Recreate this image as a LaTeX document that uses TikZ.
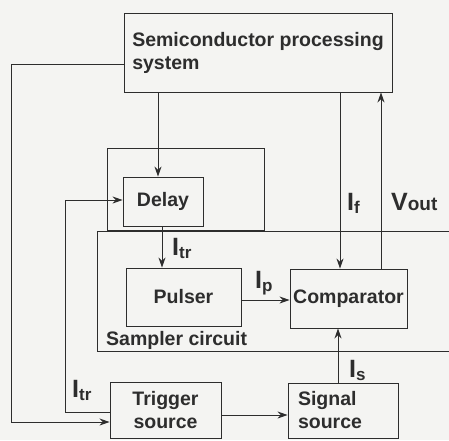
\documentclass[tikz,border=0pt]{standalone}
\usepackage{fontspec}
\setmainfont{Liberation Sans}
\usetikzlibrary{arrows.meta}
\definecolor{ink}{RGB}{45,45,45}
\definecolor{paper}{RGB}{244,244,242}
\newcommand{\curlab}[2]{{\fontsize{25}{25}\selectfont #1}\raisebox{-3pt}{\fontsize{17}{17}\selectfont #2}}
\begin{document}
\begin{tikzpicture}[x=1pt,y=-1pt,
  every node/.style={font=\bfseries\fontsize{19.5}{23}\selectfont, text=ink},
  box/.style={draw=ink, line width=0.9pt, inner sep=0pt, rectangle},
  frame/.style={draw=ink, line width=0.9pt},
  wire/.style={draw=ink, line width=0.9pt},
  arr/.style={wire, -{Stealth[length=10pt,width=7pt]}},
  lab/.style={anchor=base west, inner sep=0pt}]
\fill[paper] (0,0) rectangle (449,440);
\useasboundingbox (0,0) rectangle (449,440);
\begin{scope}
\clip (0,0) rectangle (449,440);
% containers
\draw[frame] (107,148) rectangle (264,230);
\draw[frame] (455,231) -- (97,231) -- (97,351) -- (455,351);
\node[lab] (sampler) at (106,345) {Sampler circuit};
% boxes
\node[box, minimum width=268pt, minimum height=79pt, align=left] (sps) at (258,52.5) {Semiconductor processing\\system};
\node[box, minimum width=80pt, minimum height=49pt] (delay) at (163,201.5) {Delay};
\node[box, minimum width=115pt, minimum height=58pt] (pulser) at (183.5,297) {Pulser};
\node[box, minimum width=117pt, minimum height=59pt] (comp) at (348.5,298.5) {Comparator};
\node[box, minimum width=111pt, minimum height=56pt, align=center] (trig) at (165.5,410) {Trigger\\source};
\node[box, minimum width=110pt, minimum height=55pt, text width=90pt, align=left] (sig) at (343,410.5) {Signal\\source};
% labels
\node[lab] (ltr1) at (172,255) {\curlab{I}{tr}};
\node[lab] (lp) at (255,288) {\curlab{I}{p}};
\node[lab] (lf) at (347,210) {\curlab{I}{f}};
\node[lab] (lout) at (391,210) {{\fontsize{25}{25}\selectfont V}{\fontsize{19}{19}\selectfont out}};
\node[lab] (ls) at (349,377) {\curlab{I}{s}};
\node[lab] (ltr2) at (72,397) {\curlab{I}{tr}};
% connectors
\coordinate (c1) at (11,64);
\coordinate (c2) at (11,422);
\draw[arr] (sps.west |- c1) -- (c1) -- (c2) -- (trig.west |- c2);
\draw[arr] (sps.south -| 158,0) -- (delay.north -| 158,0);
\coordinate (c3) at (65,412);
\coordinate (c4) at (65,200);
\draw[arr] (trig.west |- c3) -- (c3) -- (c4) -- (delay.west |- c4);
\draw[arr] (delay.south -| 162,0) -- (pulser.north -| 162,0);
\draw[arr] (pulser.east |- 0,300) -- (comp.west |- 0,300);
\draw[arr] (sps.south -| 340,0) -- (comp.north -| 340,0);
\draw[arr] (comp.north -| 381,0) -- (sps.south -| 381,0);
\draw[arr] (sig.north -| 338,0) -- (comp.south -| 338,0);
\draw[arr] (trig.east |- 0,415) -- (sig.west |- 0,415);
\end{scope}
\end{tikzpicture}
\end{document}
